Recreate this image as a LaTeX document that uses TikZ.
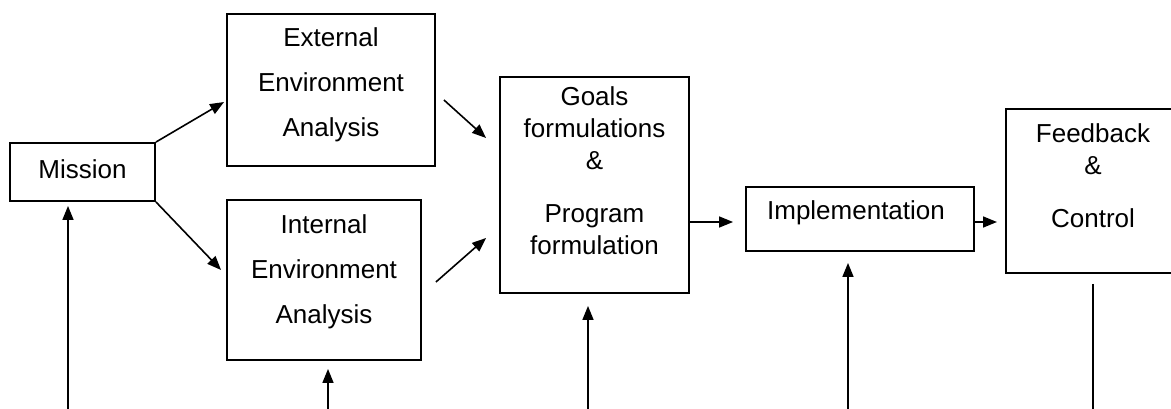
\documentclass[tikz,border=0pt]{standalone}
\usepackage{fontspec}
\setmainfont{Liberation Sans}
\usetikzlibrary{arrows.meta}
\tikzset{
  box/.style={draw, line width=1.9pt, inner sep=0pt},
  txt/.style={align=center, inner sep=0pt, font=\fontsize{26}{45}\selectfont},
  tighttxt/.style={txt, font=\fontsize{26}{32}\selectfont},
  arr/.style={line width=1.6pt, -{Triangle[length=14pt,width=11pt]}},
}
\begin{document}
\begin{tikzpicture}[x=1pt, y=-1pt]
\useasboundingbox (0,0) rectangle (1171,409);
% boxes
\node[box, minimum width=145pt, minimum height=58pt] (mission) at (82.5,172) {};
\node[box, minimum width=208pt, minimum height=152pt] (external) at (331,90) {};
\node[box, minimum width=194pt, minimum height=160pt] (internal) at (324,280) {};
\node[box, minimum width=189pt, minimum height=216pt] (goals) at (594.5,185) {};
\node[box, minimum width=228pt, minimum height=64pt] (impl) at (860,219) {};
\node[box, minimum width=200pt, minimum height=164pt, anchor=west] (feedback) at (1005,191) {};
% texts
\node[txt] (missiontxt) at (82.5,169) {Mission};
\node[txt] (externaltxt) at (331,85) {External\\Environment\\Analysis};
\node[txt] (internaltxt) at (324,272) {Internal\\Environment\\Analysis};
\node[tighttxt] (goalstxt) at (594.5,171) {Goals\\formulations\\\&\\[21pt]Program\\formulation};
\node[txt] (impltxt) at (856,213) {Implementation};
\node[tighttxt] (feedbacktxt) at (1093,176) {Feedback\\\&\\[21pt]Control};
% inputs from below
\coordinate (inmission) at (68,412);
\coordinate (ininternal) at (328,412);
\coordinate (ingoals) at (588,412);
\coordinate (inimpl) at (848,412);
\coordinate (outfeedback) at (1093,412);
% connectors
\draw[arr] (mission.north east) -- ([xshift=-2pt,yshift=-12pt]external.west);
\draw[arr] (mission.south east) -- ([xshift=-5pt,yshift=10pt]internal.west);
\draw[arr] ([xshift=8pt,yshift=-10pt]external.east) -- ([xshift=-13pt,yshift=47pt]goals.west);
\draw[arr] ([xshift=14pt,yshift=-2pt]internal.east) -- ([xshift=-13pt,yshift=-53pt]goals.west);
\draw[arr] ([yshift=-3pt]goals.east |- impl.west) -- ([xshift=-12pt,yshift=-3pt]impl.west);
\draw[arr] ([yshift=-3pt]impl.east) -- ([xshift=-8pt,yshift=-3pt]impl.east -| feedback.west);
\draw[arr, shorten >=4pt] (inmission) -- (inmission |- mission.south);
\draw[arr, shorten >=8pt] (ininternal) -- (ininternal |- internal.south);
\draw[arr, shorten >=12pt] (ingoals) -- (ingoals |- goals.south);
\draw[arr, shorten >=11pt] (inimpl) -- (inimpl |- impl.south);
\draw[line width=1.6pt, shorten <=10pt] (outfeedback |- feedback.south) -- (outfeedback);
\end{tikzpicture}
\end{document}
